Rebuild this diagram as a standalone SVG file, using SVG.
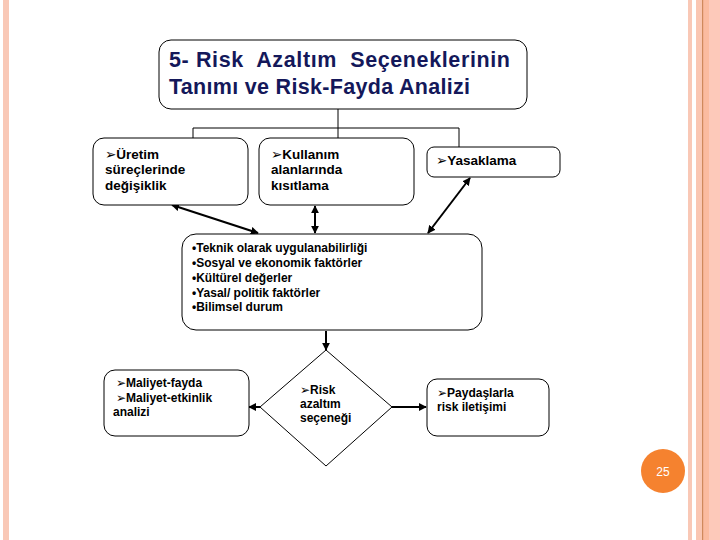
<svg xmlns="http://www.w3.org/2000/svg" width="720" height="540" viewBox="0 0 720 540">
<defs>
<style>
.box{fill:#fff;stroke:#000;stroke-width:1}
.t{font-family:"Liberation Sans","DejaVu Sans",Arial,sans-serif;font-weight:bold;font-size:13.5px;fill:#000}
.s{font-family:"Liberation Sans","DejaVu Sans",Arial,sans-serif;font-weight:bold;font-size:12px;fill:#000}
.title{font-family:"Liberation Sans","DejaVu Sans",Arial,sans-serif;font-weight:bold;font-size:21.5px;fill:#14185a}
.ln{fill:none;stroke:#000;stroke-width:1}
.ar{fill:none;stroke:#000;stroke-width:2}
</style>
<marker id="ah" viewBox="0 0 10 10" refX="9" refY="5" markerWidth="4" markerHeight="4" orient="auto-start-reverse" markerUnits="strokeWidth">
<path d="M0,0 L10,5 L0,10 z" fill="#000"/>
</marker>
</defs>
<rect width="720" height="540" fill="#fff"/>
<g id="decor">
<rect x="3" y="0" width="6" height="540" fill="#F9C8B6"/>
<rect x="688" y="0" width="4" height="540" fill="#F9C8B6"/>
<rect x="696" y="0" width="24" height="540" fill="#FAC6B2"/>
<rect x="703" y="0" width="6" height="540" fill="#FBBBA0"/>
<rect x="702" y="0" width="1.2" height="540" fill="#D0895C"/>
<rect x="709" y="0" width="11" height="540" fill="#FDC9BA"/>
</g>
<g id="connectors">
<path class="ln" d="M338,109 V128 M193,128 H459 M193,128 V138 M338,128 V138 M459,128 V147"/>
<line class="ar" x1="172" y1="205" x2="258" y2="233" marker-start="url(#ah)" marker-end="url(#ah)"/>
<line class="ar" x1="315" y1="206" x2="315" y2="233" marker-start="url(#ah)" marker-end="url(#ah)"/>
<line class="ar" x1="470" y1="178" x2="428" y2="233" marker-start="url(#ah)" marker-end="url(#ah)"/>
<line class="ar" x1="326" y1="331" x2="326" y2="350" stroke-width="1.5" marker-end="url(#ah)"/>
<line class="ar" x1="260" y1="407" x2="249" y2="407" marker-end="url(#ah)"/>
<line class="ar" x1="392" y1="407" x2="426" y2="407" marker-end="url(#ah)"/>
</g>
<g id="title">
<rect class="box" x="159" y="40" width="368" height="69" rx="12"/>
<text class="title" x="169" y="67" textLength="341" lengthAdjust="spacing" xml:space="preserve">5- Risk  Azaltım  Seçeneklerinin</text>
<text class="title" x="169" y="94" textLength="301" lengthAdjust="spacing">Tanımı ve Risk-Fayda Analizi</text>
</g>
<g id="uretim">
<rect class="box" x="93" y="138" width="155" height="67" rx="11"/>
<text class="t" x="105" y="159">➢Üretim</text>
<text class="t" x="105" y="174">süreçlerinde</text>
<text class="t" x="105" y="190">değişiklik</text>
</g>
<g id="kullanim">
<rect class="box" x="259" y="138" width="155" height="67" rx="11"/>
<text class="t" x="271" y="159">➢Kullanım</text>
<text class="t" x="271" y="174">alanlarında</text>
<text class="t" x="271" y="190">kısıtlama</text>
</g>
<g id="yasaklama">
<rect class="box" x="427" y="147" width="133" height="30" rx="7"/>
<text class="t" x="436" y="165">➢Yasaklama</text>
</g>
<g id="kriterler">
<rect class="box" x="182" y="234" width="300" height="96" rx="14"/>
<text class="s" x="192" y="252">•Teknik olarak uygulanabilirliği</text>
<text class="s" x="192" y="267">•Sosyal ve ekonomik faktörler</text>
<text class="s" x="192" y="282">•Kültürel değerler</text>
<text class="s" x="192" y="297">•Yasal/ politik faktörler</text>
<text class="s" x="192" y="311">•Bilimsel durum</text>
</g>
<g id="secenek">
<polygon class="box" points="326,350 392,407 326,466 260,407"/>
<text class="s" x="300" y="394">➢Risk</text>
<text class="s" x="300" y="408">azaltım</text>
<text class="s" x="300" y="422">seçeneği</text>
</g>
<g id="maliyet">
<rect class="box" x="104" y="370" width="145" height="66" rx="11"/>
<text class="s" x="116" y="387">➢Maliyet-fayda</text>
<text class="s" x="116" y="402">➢Maliyet-etkinlik</text>
<text class="s" x="113" y="416">analizi</text>
</g>
<g id="paydas">
<rect class="box" x="427" y="379" width="122" height="57" rx="10"/>
<text class="s" x="437" y="397">➢Paydaşlarla</text>
<text class="s" x="437" y="411">risk iletişimi</text>
</g>
<g id="pagenum">
<circle cx="663" cy="471" r="22" fill="#F5822F"/>
<text x="663" y="475.5" text-anchor="middle" font-family="Liberation Sans, Arial, sans-serif" font-size="12" fill="#fff">25</text>
</g>
</svg>
